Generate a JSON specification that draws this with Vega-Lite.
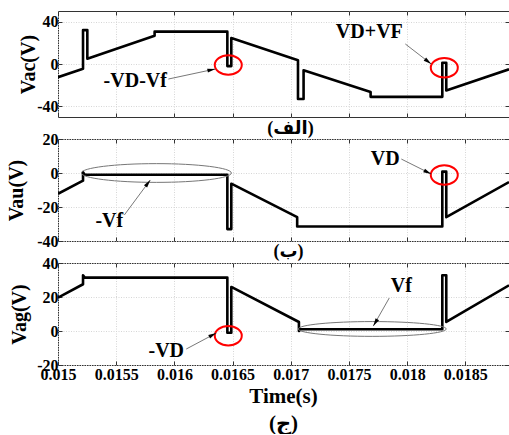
{
  "$schema": "https://vega.github.io/schema/vega-lite/v6.json",
  "background": "white",
  "padding": {"left": 5, "top": 10, "right": 1, "bottom": 0},
  "bounds": "flush",
  "spacing": 22,
  "config": {
    "view": {"stroke": "#333333", "strokeWidth": 1},
    "axis": {
      "domain": false,
      "ticks": true,
      "tickSize": -4,
      "tickColor": "#333333",
      "tickWidth": 1,
      "gridColor": "#d6d6d6",
      "gridDash": [1, 1.5],
      "labelFont": "Liberation Serif",
      "labelFontWeight": "bold",
      "labelFontSize": 16,
      "labelColor": "black",
      "labelPadding": 4,
      "labelFlush": false,
      "labelOverlap": false,
      "titleFont": "Liberation Serif",
      "titleFontWeight": "bold",
      "titleFontSize": 20,
      "titleColor": "black"
    },
    "text": {"font": "Liberation Serif", "fontWeight": "bold", "fontSize": 20, "color": "black"}
  },
  "datasets": {
    "vac": [
      {"t": 0.015, "v": -12.4}, {"t": 0.015215, "v": -4.5}, {"t": 0.015215, "v": 32}, {"t": 0.015252, "v": 32},
      {"t": 0.015252, "v": 5}, {"t": 0.01583, "v": 26.7}, {"t": 0.01583, "v": 30.5}, {"t": 0.016455, "v": 30.5},
      {"t": 0.016455, "v": -2}, {"t": 0.016489, "v": -2}, {"t": 0.016489, "v": 24.5}, {"t": 0.017062, "v": 3.5},
      {"t": 0.017062, "v": -33}, {"t": 0.01711, "v": -33}, {"t": 0.01711, "v": -6}, {"t": 0.017686, "v": -26.4},
      {"t": 0.017686, "v": -31}, {"t": 0.018302, "v": -31}, {"t": 0.018302, "v": 1.2}, {"t": 0.018336, "v": 1.2},
      {"t": 0.018336, "v": -25}, {"t": 0.018875, "v": -5}
    ],
    "vau": [
      {"t": 0.015, "v": -12.2}, {"t": 0.015215, "v": -4.5}, {"t": 0.015215, "v": 0.5}, {"t": 0.01523, "v": -1},
      {"t": 0.016455, "v": -1}, {"t": 0.016455, "v": -33}, {"t": 0.016489, "v": -33}, {"t": 0.016489, "v": -6.3},
      {"t": 0.017055, "v": -26}, {"t": 0.017055, "v": -31.5}, {"t": 0.018302, "v": -31.5}, {"t": 0.018302, "v": 0.8},
      {"t": 0.018336, "v": 0.8}, {"t": 0.018336, "v": -26}, {"t": 0.018875, "v": -5.3}
    ],
    "vag": [
      {"t": 0.015, "v": 19.6}, {"t": 0.015215, "v": 27.5}, {"t": 0.015215, "v": 32.8}, {"t": 0.01523, "v": 31.4},
      {"t": 0.016455, "v": 31.4}, {"t": 0.016455, "v": -1}, {"t": 0.016489, "v": -1}, {"t": 0.016489, "v": 25.9},
      {"t": 0.01707, "v": 5.3}, {"t": 0.01707, "v": 0}, {"t": 0.017085, "v": 1}, {"t": 0.018302, "v": 1},
      {"t": 0.018302, "v": 32.8}, {"t": 0.018336, "v": 32.8}, {"t": 0.018336, "v": 5.3}, {"t": 0.018875, "v": 26.9}
    ],
    "rings": [
      {"panel": "ac", "kind": "tip", "t": 0.016463, "v": -0.9},
      {"panel": "ac", "kind": "tip", "t": 0.018319, "v": -3.5},
      {"panel": "au", "kind": "tip", "t": 0.018319, "v": -1.2},
      {"panel": "au", "kind": "span", "t": 0.015845, "v": 0},
      {"panel": "ag", "kind": "tip", "t": 0.016463, "v": -2.8},
      {"panel": "ag", "kind": "span", "t": 0.0177, "v": 1.2}
    ],
    "notes": [
      {"panel": "ac", "label": "-VD-Vf", "t": 0.015664, "v": -16.5, "t0": 0.015948, "v0": -14.2, "t1": 0.016352, "v1": -4.7},
      {"panel": "ac", "label": "VD+VF", "t": 0.017675, "v": 30.5, "t0": 0.017984, "v0": 18.9, "t1": 0.018207, "v1": 0},
      {"panel": "au", "label": "-Vf", "t": 0.015441, "v": -28.2, "t0": 0.01557, "v0": -24.7, "t1": 0.015793, "v1": -4.1},
      {"panel": "au", "label": "VD", "t": 0.017812, "v": 8.2, "t0": 0.01795, "v0": 8.2, "t1": 0.018207, "v1": -0.6},
      {"panel": "ag", "label": "-VD", "t": 0.01593, "v": -11.8, "t0": 0.016102, "v0": -10.6, "t1": 0.01636, "v1": -1.2},
      {"panel": "ag", "label": "Vf", "t": 0.01795, "v": 26.5, "t0": 0.017846, "v0": 19.4, "t1": 0.017709, "v1": 2.9}
    ]
  },
  "vconcat": [
    {
      "width": 451,
      "height": 106,
      "resolve": {"axis": {"x": "independent", "y": "independent"}},
      "layer": [
        {
          "data": {"name": "vac"},
          "mark": {"type": "line", "color": "black", "strokeWidth": 2.6, "strokeJoin": "round", "clip": true},
          "encoding": {
            "x": {"field": "t", "type": "quantitative",
              "scale": {"domain": [0.015, 0.018875], "nice": false, "zero": false},
              "axis": {"orient": "bottom", "values": [0.015, 0.0155, 0.016, 0.0165, 0.017, 0.0175, 0.018, 0.0185],
                "labels": false, "grid": true, "title": "(الف)", "titleFont": "Liberation Serif, DejaVu Sans",
                "titleFontSize": 18, "titlePadding": 2, "titleX": 232}},
            "y": {"field": "v", "type": "quantitative",
              "scale": {"domain": [-50, 50], "nice": false, "zero": false},
              "axis": {"orient": "left", "values": [-40, 0, 40], "labelExpr": "toString(datum.value)", "grid": true,
                "title": "Vac(V)", "titleX": -30, "titleBaseline": "middle"}},
            "order": {"value": null}
          }
        },
        {
          "data": {"name": "rings"},
          "transform": [{"filter": "datum.panel === 'ac' && datum.kind === 'tip'"}],
          "mark": {"type": "point", "shape": "M-1,0A1,0.72,0,1,0,1,0A1,0.72,0,1,0,-1,0", "size": 729,
            "filled": false, "stroke": "#ff0000", "strokeWidth": 2, "opacity": 1},
          "encoding": {
            "x": {"field": "t", "type": "quantitative",
              "scale": {"domain": [0.015, 0.018875], "nice": false, "zero": false},
              "axis": {"orient": "top", "values": [0.015, 0.0155, 0.016, 0.0165, 0.017, 0.0175, 0.018, 0.0185],
                "labels": false, "grid": false, "title": null}},
            "y": {"field": "v", "type": "quantitative",
              "scale": {"domain": [-50, 50], "nice": false, "zero": false},
              "axis": {"orient": "right", "values": [-40, 0, 40], "labels": false, "grid": false, "title": null}}
          }
        },
        {
          "data": {"name": "notes"},
          "transform": [{"filter": "datum.panel === 'ac'"}],
          "mark": {"type": "rule", "color": "#555555", "strokeWidth": 0.8},
          "encoding": {
            "x": {"field": "t0", "type": "quantitative", "axis": null},
            "y": {"field": "v0", "type": "quantitative", "axis": null},
            "x2": {"field": "t1"},
            "y2": {"field": "v1"}
          }
        },
        {
          "data": {"name": "notes"},
          "transform": [{"filter": "datum.label === '-VD-Vf'"}],
          "mark": {"type": "point", "shape": "M0,0L0.5,2L-0.5,2Z", "size": 64, "filled": true, "color": "black", "opacity": 1, "angle": 78},
          "encoding": {
            "x": {"field": "t1", "type": "quantitative", "axis": null},
            "y": {"field": "v1", "type": "quantitative", "axis": null}
          }
        },
        {
          "data": {"name": "notes"},
          "transform": [{"filter": "datum.label === 'VD+VF'"}],
          "mark": {"type": "point", "shape": "M0,0L0.5,2L-0.5,2Z", "size": 64, "filled": true, "color": "black", "opacity": 1, "angle": 127.6},
          "encoding": {
            "x": {"field": "t1", "type": "quantitative", "axis": null},
            "y": {"field": "v1", "type": "quantitative", "axis": null}
          }
        },
        {
          "data": {"name": "notes"},
          "transform": [{"filter": "datum.panel === 'ac'"}],
          "mark": {"type": "text", "align": "center", "baseline": "middle"},
          "encoding": {
            "x": {"field": "t", "type": "quantitative", "axis": null},
            "y": {"field": "v", "type": "quantitative", "axis": null},
            "text": {"field": "label"}
          }
        }
      ]
    },
    {
      "width": 451,
      "height": 102,
      "resolve": {"axis": {"x": "independent", "y": "independent"}},
      "layer": [
        {
          "data": {"name": "vau"},
          "mark": {"type": "line", "color": "black", "strokeWidth": 2.6, "strokeJoin": "round", "clip": true},
          "encoding": {
            "x": {"field": "t", "type": "quantitative",
              "scale": {"domain": [0.015, 0.018875], "nice": false, "zero": false},
              "axis": {"orient": "bottom", "values": [0.015, 0.0155, 0.016, 0.0165, 0.017, 0.0175, 0.018, 0.0185],
                "labels": false, "grid": true, "title": "(ب)", "titleFont": "Liberation Serif, DejaVu Sans",
                "titleFontSize": 18, "titlePadding": 1, "titleX": 230}},
            "y": {"field": "v", "type": "quantitative",
              "scale": {"domain": [-40, 20], "nice": false, "zero": false},
              "axis": {"orient": "left", "values": [-40, -20, 0, 20], "labelExpr": "toString(datum.value)", "grid": true,
                "title": "Vau(V)", "titleX": -42, "titleBaseline": "middle"}},
            "order": {"value": null}
          }
        },
        {
          "data": {"name": "rings"},
          "transform": [{"filter": "datum.panel === 'au' && datum.kind === 'tip'"}],
          "mark": {"type": "point", "shape": "M-1,0A1,0.72,0,1,0,1,0A1,0.72,0,1,0,-1,0", "size": 729,
            "filled": false, "stroke": "#ff0000", "strokeWidth": 2, "opacity": 1},
          "encoding": {
            "x": {"field": "t", "type": "quantitative",
              "scale": {"domain": [0.015, 0.018875], "nice": false, "zero": false},
              "axis": {"orient": "top", "values": [0.015, 0.0155, 0.016, 0.0165, 0.017, 0.0175, 0.018, 0.0185],
                "labels": false, "grid": false, "title": null}},
            "y": {"field": "v", "type": "quantitative",
              "scale": {"domain": [-40, 20], "nice": false, "zero": false},
              "axis": {"orient": "right", "values": [-40, -20, 0, 20], "labels": false, "grid": false, "title": null}}
          }
        },
        {
          "data": {"name": "rings"},
          "transform": [{"filter": "datum.panel === 'au' && datum.kind === 'span'"}],
          "mark": {"type": "point", "shape": "M-1,0A1,0.125,0,1,0,1,0A1,0.125,0,1,0,-1,0", "size": 22500,
            "filled": false, "stroke": "#777777", "strokeWidth": 1, "opacity": 1},
          "encoding": {
            "x": {"field": "t", "type": "quantitative", "axis": null},
            "y": {"field": "v", "type": "quantitative", "axis": null}
          }
        },
        {
          "data": {"name": "notes"},
          "transform": [{"filter": "datum.panel === 'au'"}],
          "mark": {"type": "rule", "color": "#555555", "strokeWidth": 0.8},
          "encoding": {
            "x": {"field": "t0", "type": "quantitative", "axis": null},
            "y": {"field": "v0", "type": "quantitative", "axis": null},
            "x2": {"field": "t1"},
            "y2": {"field": "v1"}
          }
        },
        {
          "data": {"name": "notes"},
          "transform": [{"filter": "datum.label === '-Vf'"}],
          "mark": {"type": "point", "shape": "M0,0L0.5,2L-0.5,2Z", "size": 64, "filled": true, "color": "black", "opacity": 1, "angle": 36.6},
          "encoding": {
            "x": {"field": "t1", "type": "quantitative", "axis": null},
            "y": {"field": "v1", "type": "quantitative", "axis": null}
          }
        },
        {
          "data": {"name": "notes"},
          "transform": [{"filter": "datum.label === 'VD'"}],
          "mark": {"type": "point", "shape": "M0,0L0.5,2L-0.5,2Z", "size": 64, "filled": true, "color": "black", "opacity": 1, "angle": 116.6},
          "encoding": {
            "x": {"field": "t1", "type": "quantitative", "axis": null},
            "y": {"field": "v1", "type": "quantitative", "axis": null}
          }
        },
        {
          "data": {"name": "notes"},
          "transform": [{"filter": "datum.panel === 'au'"}],
          "mark": {"type": "text", "align": "center", "baseline": "middle"},
          "encoding": {
            "x": {"field": "t", "type": "quantitative", "axis": null},
            "y": {"field": "v", "type": "quantitative", "axis": null},
            "text": {"field": "label"}
          }
        }
      ]
    },
    {
      "width": 451,
      "height": 102,
      "resolve": {"axis": {"x": "independent", "y": "independent"}},
      "layer": [
        {
          "data": {"name": "vag"},
          "mark": {"type": "line", "color": "black", "strokeWidth": 2.6, "strokeJoin": "round", "clip": true},
          "encoding": {
            "x": {"field": "t", "type": "quantitative",
              "scale": {"domain": [0.015, 0.018875], "nice": false, "zero": false},
              "axis": {"orient": "bottom", "values": [0.015, 0.0155, 0.016, 0.0165, 0.017, 0.0175, 0.018, 0.0185],
                "format": ".4~f", "labelPadding": 5, "grid": true,
                "title": ["Time(s)", "(ج)"], "titleFont": "Liberation Serif, DejaVu Sans",
                "titleFontSize": 21, "titleLineHeight": 27, "titlePadding": 3, "titleX": 225}},
            "y": {"field": "v", "type": "quantitative",
              "scale": {"domain": [-20, 40], "nice": false, "zero": false},
              "axis": {"orient": "left", "values": [-20, 0, 20, 40], "labelExpr": "toString(datum.value)", "grid": true,
                "title": "Vag(V)", "titleX": -39, "titleBaseline": "middle"}},
            "order": {"value": null}
          }
        },
        {
          "data": {"name": "rings"},
          "transform": [{"filter": "datum.panel === 'ag' && datum.kind === 'tip'"}],
          "mark": {"type": "point", "shape": "M-1,0A1,0.72,0,1,0,1,0A1,0.72,0,1,0,-1,0", "size": 729,
            "filled": false, "stroke": "#ff0000", "strokeWidth": 2, "opacity": 1},
          "encoding": {
            "x": {"field": "t", "type": "quantitative",
              "scale": {"domain": [0.015, 0.018875], "nice": false, "zero": false},
              "axis": {"orient": "top", "values": [0.015, 0.0155, 0.016, 0.0165, 0.017, 0.0175, 0.018, 0.0185],
                "labels": false, "grid": false, "title": null}},
            "y": {"field": "v", "type": "quantitative",
              "scale": {"domain": [-20, 40], "nice": false, "zero": false},
              "axis": {"orient": "right", "values": [-20, 0, 20, 40], "labels": false, "grid": false, "title": null}}
          }
        },
        {
          "data": {"name": "rings"},
          "transform": [{"filter": "datum.panel === 'ag' && datum.kind === 'span'"}],
          "mark": {"type": "point", "shape": "M-1,0A1,0.1,0,1,0,1,0A1,0.1,0,1,0,-1,0", "size": 21904,
            "filled": false, "stroke": "#777777", "strokeWidth": 1, "opacity": 1},
          "encoding": {
            "x": {"field": "t", "type": "quantitative", "axis": null},
            "y": {"field": "v", "type": "quantitative", "axis": null}
          }
        },
        {
          "data": {"name": "notes"},
          "transform": [{"filter": "datum.panel === 'ag'"}],
          "mark": {"type": "rule", "color": "#555555", "strokeWidth": 0.8},
          "encoding": {
            "x": {"field": "t0", "type": "quantitative", "axis": null},
            "y": {"field": "v0", "type": "quantitative", "axis": null},
            "x2": {"field": "t1"},
            "y2": {"field": "v1"}
          }
        },
        {
          "data": {"name": "notes"},
          "transform": [{"filter": "datum.label === '-VD'"}],
          "mark": {"type": "point", "shape": "M0,0L0.5,2L-0.5,2Z", "size": 64, "filled": true, "color": "black", "opacity": 1, "angle": 62.7},
          "encoding": {
            "x": {"field": "t1", "type": "quantitative", "axis": null},
            "y": {"field": "v1", "type": "quantitative", "axis": null}
          }
        },
        {
          "data": {"name": "notes"},
          "transform": [{"filter": "datum.label === 'Vf'"}],
          "mark": {"type": "point", "shape": "M0,0L0.5,2L-0.5,2Z", "size": 64, "filled": true, "color": "black", "opacity": 1, "angle": 210.4},
          "encoding": {
            "x": {"field": "t1", "type": "quantitative", "axis": null},
            "y": {"field": "v1", "type": "quantitative", "axis": null}
          }
        },
        {
          "data": {"name": "notes"},
          "transform": [{"filter": "datum.panel === 'ag'"}],
          "mark": {"type": "text", "align": "center", "baseline": "middle"},
          "encoding": {
            "x": {"field": "t", "type": "quantitative", "axis": null},
            "y": {"field": "v", "type": "quantitative", "axis": null},
            "text": {"field": "label"}
          }
        }
      ]
    }
  ]
}
